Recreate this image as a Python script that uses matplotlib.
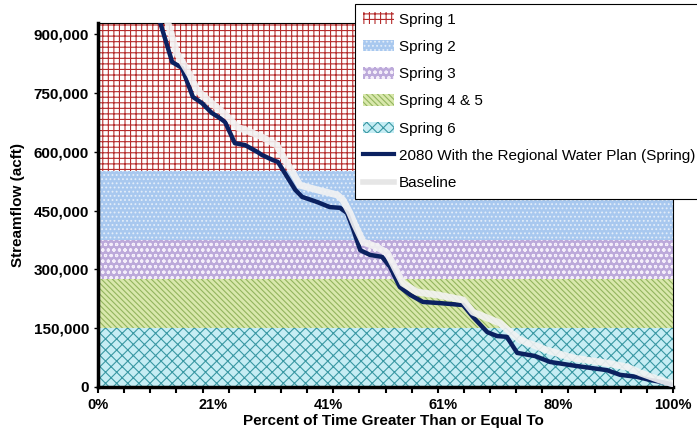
import matplotlib
matplotlib.use("Agg")
import matplotlib.pyplot as plt
from matplotlib.patches import Patch
from matplotlib.lines import Line2D
from matplotlib.ticker import FuncFormatter

plt.rcParams['font.family'] = ['Liberation Sans', 'DejaVu Sans']

# ---- data ----
band_names = ["Spring 1", "Spring 2", "Spring 3", "Spring 4 & 5", "Spring 6"]
band_low = [550000, 375000, 275000, 150000, 0]
band_high = [1000000, 550000, 375000, 275000, 150000]

plan_x = [10.6, 12.9, 14.6, 16.5, 18.1, 19.8, 21.2, 22.1, 23.8, 25.6, 27.8, 28.5,
          30.4, 31.3, 32.9, 34.3, 35.5, 38.1, 40.3, 42.1, 43.3, 44.3, 45.6, 47.3,
          49.4, 50.8, 52.5, 54.3, 56.5, 59.5, 63.5, 65.2, 67.7, 69.4, 71.1, 72.9,
          76.0, 78.6, 83.0, 88.5, 90.8, 93.7, 96.0, 99.0, 100.0]
plan_y = [940000, 829000, 814000, 740000, 724000, 699000, 686000, 676000, 622000,
          617000, 599000, 592000, 579000, 574000, 536000, 503000, 485000, 472000,
          459000, 457000, 444000, 406000, 349000, 337000, 332000, 306000, 255000,
          235000, 217000, 214000, 209000, 179000, 140000, 130000, 128000, 87000,
          79000, 64000, 54000, 43000, 31000, 26000, 18000, 10000, 3000]

base_x = [12.0, 13.7, 16.0, 17.2, 19.1, 21.2, 22.6, 24.2, 26.4, 28.2, 31.1, 32.2,
          33.9, 35.1, 38.1, 41.6, 42.6, 43.8, 44.7, 46.1, 48.5, 50.3, 53.0, 55.5,
          59.0, 63.5, 65.2, 69.9, 71.7, 73.4, 78.1, 82.6, 88.5, 92.0, 94.3, 97.7,
          100.0]
base_y = [936000, 852000, 796000, 758000, 732000, 707000, 689000, 663000, 651000,
          640000, 617000, 587000, 546000, 515000, 503000, 490000, 477000, 444000,
          413000, 370000, 357000, 342000, 265000, 242000, 235000, 222000, 191000,
          163000, 140000, 120000, 94000, 74000, 61000, 51000, 36000, 18000, 8000]

x_tick_labels = ["0%", "21%", "41%", "61%", "80%", "100%"]
y_ticks = [0, 150000, 300000, 450000, 600000, 750000, 900000]

# ---- styles ----
band_face = ["#ffffff", "#a8c8ef", "#bca9da", "#d9e8ac", "#c6edf4"]
band_hatch_col = ["#b52c2c", "#e3edf9", "#f4eefa", "#93b55e", "#3a98a3"]
band_hatch = ["+++", "....", "ooo", "\\\\\\\\\\\\", "xxx"]

plt.rcParams['hatch.linewidth'] = 0.8

fig = plt.figure(figsize=(6.97, 4.32), dpi=100)
ax = fig.add_axes([98/697, 1-387/432, (673-98)/697, (387-23)/432])

for lo, hi, fc, hc, h in zip(band_low, band_high, band_face, band_hatch_col, band_hatch):
    ax.axhspan(lo, hi, facecolor=fc, edgecolor=hc, hatch=h, lw=0, zorder=0)

ax.plot(plan_x, plan_y, color="#0b2160", lw=3.2, solid_joinstyle='round', zorder=3)
ax.plot(base_x, base_y, color="#f3f3f3", lw=5, alpha=0.9, solid_joinstyle='round', zorder=4)

ax.set_xlim(0, 100)
ax.set_ylim(0, 928600)
ax.set_yticks(y_ticks)
ax.yaxis.set_major_formatter(FuncFormatter(lambda v, p: f"{int(v):,}"))
ax.set_xticks([i * 100 / 22 for i in range(23)])
ax.set_xticklabels([])
ax.tick_params(axis='x', length=4, width=1.5, direction='out', color='black')
ax.tick_params(axis='y', length=3, width=1, direction='out', labelsize=11)
for lab in ax.get_yticklabels():
    lab.set_fontweight('bold')

for i, t in enumerate(x_tick_labels):
    ax.text((98 + i * 115) / 697, 1 - 405 / 432, t, transform=fig.transFigure,
            ha='center', va='center', fontsize=10.5, fontweight='bold')

ax.spines['left'].set_linewidth(2.5)
ax.spines['bottom'].set_linewidth(2.5)
ax.spines['top'].set_linewidth(0.8)
ax.spines['right'].set_linewidth(0.8)

ax.set_ylabel("Streamflow (acft)", fontsize=11, fontweight='bold', labelpad=6)
fig.text(393/697, 1-421/432, "Percent of Time Greater Than or Equal To",
         ha='center', va='center', fontsize=11, fontweight='bold')

handles = []
for n, fc, hc, h in zip(band_names, band_face, band_hatch_col, band_hatch):
    handles.append(Patch(facecolor=fc, edgecolor=hc, hatch=h, lw=0, label=n))
handles.append(Line2D([], [], color="#0b2160", lw=3, label="2080 With the Regional Water Plan (Spring)"))
handles.append(Line2D([], [], color="#e6e6e6", lw=4, label="Baseline"))

leg = fig.legend(handles=handles, loc='upper left', bbox_to_anchor=(355/697, 1-4/432),
                 frameon=True, fancybox=False, edgecolor='black', framealpha=1,
                 fontsize=11, labelspacing=0.86, handlelength=2.0, handletextpad=0.3,
                 borderpad=0.55, borderaxespad=0, handleheight=0.8)
leg.get_frame().set_linewidth(0.8)
leg.set_zorder(10)

fig.savefig("out.png", dpi=100)
